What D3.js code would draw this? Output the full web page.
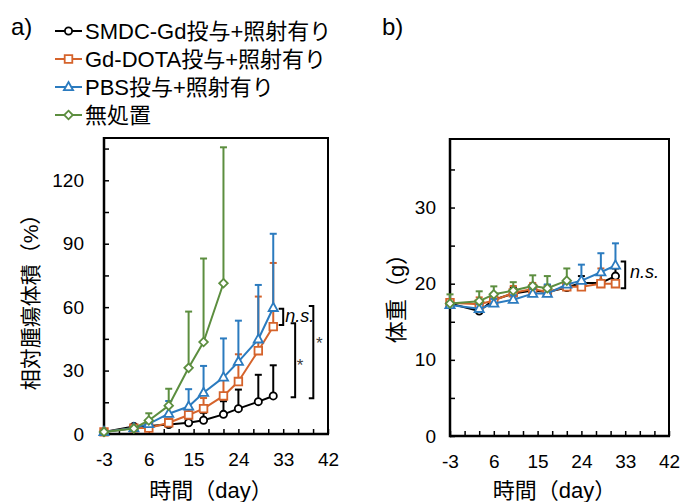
<!DOCTYPE html>
<html>
<head>
<meta charset="utf-8">
<script src="https://cdn.jsdelivr.net/npm/d3@7"></script>
<style>
  html, body { margin: 0; padding: 0; background: #fff; }
  svg { display: block; font-family: "Liberation Sans", Arial, "Noto Sans CJK JP", sans-serif; }
  .cjk { font-family: "Liberation Sans", Arial, "Noto Sans CJK JP", sans-serif; }
</style>
</head>
<body>
<svg id="chart" width="681" height="502"></svg>
<script>
// ---------- data ----------
const days = [-3, 3, 6, 10, 14, 17, 21, 24, 28, 31];
const daysUntreated = [-3, 3, 6, 10, 14, 17, 21];

const seriesNames = ["SMDC-Gd投与+照射有り", "Gd-DOTA投与+照射有り", "PBS投与+照射有り", "無処置"];
const seriesColors = ["#000000", "#D5632B", "#2B7BBF", "#5C8E3F"];
const seriesShapes = ["circle", "square", "triangle", "diamond"];

// panel a: relative tumor volume (%)
const tumorSMDC = [1, 3.6, 3.8, 4.5, 5.3, 6.5, 9.3, 12, 15.3, 18];
const tumorSMDCsd = [0, 0.6, 0.8, 1.2, 2.2, 3.5, 6.2, 9, 12.7, 14.5];
const tumorGdDOTA = [1, 2.8, 2.8, 5.3, 9, 12, 18, 24.8, 39.4, 50.8];
const tumorGdDOTAsd = [0, 0.5, 0.8, 2, 3, 5, 8, 12.9, 25.6, 30.1];
const tumorPBS = [1, 2.8, 4.8, 9.6, 13, 19.5, 26.8, 34.2, 44.8, 59.7];
const tumorPBSsd = [0, 0.5, 1.5, 6, 8.2, 12.7, 18.4, 19.4, 25.7, 35];
const tumorUntreated = [1, 2.6, 6.4, 13.4, 31.3, 43.5, 71.3];
const tumorUntreatedsd = [0, 0.5, 3.4, 8, 26.6, 39.5, 64.3];

// panel b: body weight (g)
const weightSMDC = [17.4, 16.4, 17.9, 18.7, 19.1, 18.9, 19.5, 20.1, 20.1, 21.0];
const weightSMDCsd = [0.4, 0.5, 0.6, 0.8, 0.8, 0.9, 0.9, 0.9, 1.2, 1.0];
const weightGdDOTA = [17.5, 17.3, 17.8, 18.8, 19.3, 18.9, 19.6, 19.6, 20.0, 20.0];
const weightGdDOTAsd = [0.4, 0.9, 0.9, 0.9, 0.8, 0.8, 0.9, 0.6, 2.0, 0.4];
const weightPBS = [17.2, 16.7, 17.4, 17.9, 18.7, 18.7, 19.9, 20.4, 21.5, 22.4];
const weightPBSsd = [0.3, 0.6, 0.6, 0.6, 0.6, 1.2, 0.6, 2.1, 2.5, 2.9];
const weightUntreated = [17.4, 17.7, 18.6, 19.1, 19.7, 19.4, 20.4];
const weightUntreatedsd = [1.2, 1.3, 1.05, 1.1, 1.4, 1.6, 1.6];

// axes
const xTickLabels = [-3, 6, 15, 24, 33, 42];
const xMinorTicks = d3.range(-3, 43, 3);
const tumorTickLabels = [0, 30, 60, 90, 120];
const tumorMinorTicks = d3.range(0, 136, 15);
const weightTickLabels = [0, 10, 20, 30];
const weightMinorTicks = d3.range(0, 36, 5);

// significance annotations (data space)
const tumorBrackets = [
  { x: 33, y0: 59.2, y1: 51.5, label: "n.s.", italic: true, lx: 33.4, ly: 53.2 },
  { x: 35.4, y0: 52.4, y1: 17.4, label: "*", italic: false, lx: 35.7, ly: 29.8 },
  { x: 39.05, y0: 60.5, y1: 16.9, label: "*", italic: false, lx: 39.6, ly: 40 }
];
const weightBrackets = [
  { x: 33, y0: 22.9, y1: 19.4, label: "n.s.", italic: true, lx: 34, ly: 20.8 }
];

// ---------- drawing ----------
const svg = d3.select("#chart");

function drawPanel(cfg) {
  const g = svg.append("g");
  const x = d3.scaleLinear().domain([-3, 42]).range([cfg.left, cfg.right]);
  const y = d3.scaleLinear().domain([0, cfg.ymax]).range([cfg.bottom, cfg.top]);

  // frame top/right
  g.append("path")
    .attr("d", `M${cfg.left},${cfg.top}H${cfg.right}V${cfg.bottom}`)
    .attr("fill", "none").attr("stroke", "#000").attr("stroke-width", 2);

  // x axis (ticks inside, up)
  const xAxisMinor = d3.axisTop(x).tickValues(xMinorTicks).tickSize(5).tickFormat("");
  const gx = g.append("g").attr("transform", `translate(0,${cfg.bottom})`).call(xAxisMinor);
  gx.select(".domain").remove();
  gx.selectAll(".tick line").attr("stroke", "#000").attr("stroke-width", 1.5);
  const xAxisLabels = d3.axisBottom(x).tickValues(xTickLabels).tickSize(0).tickPadding(19).tickFormat(d3.format("d"));
  const gxl = g.append("g").attr("transform", `translate(0,${cfg.bottom})`).call(xAxisLabels);
  gxl.select(".domain").remove();
  gxl.selectAll("text").attr("font-size", 19).attr("fill", "#000")
    .attr("font-family", "Liberation Sans, Arial, sans-serif").text(d => d < 0 ? "-" + Math.abs(d) : d);

  // y axis (ticks inside, right)
  const yAxisMinor = d3.axisRight(y).tickValues(cfg.minor).tickSize(5).tickFormat("");
  const gy = g.append("g").attr("transform", `translate(${cfg.left},0)`).call(yAxisMinor);
  gy.select(".domain").remove();
  gy.selectAll(".tick line").attr("stroke", "#000").attr("stroke-width", 1.5);
  const yAxisLabels = d3.axisLeft(y).tickValues(cfg.labels).tickSize(0).tickPadding(cfg.ypad).tickFormat(d3.format("d"));
  const gyl = g.append("g").attr("transform", `translate(${cfg.left},0)`).call(yAxisLabels);
  gyl.select(".domain").remove();
  gyl.selectAll("text").attr("font-size", 19).attr("fill", "#000")
    .attr("font-family", "Liberation Sans, Arial, sans-serif");

  // axis lines
  g.append("line").attr("x1", cfg.left).attr("x2", cfg.left).attr("y1", cfg.top - 1).attr("y2", cfg.bottom + 1.2)
    .attr("stroke", "#000").attr("stroke-width", 2.5);
  g.append("line").attr("x1", cfg.left).attr("x2", cfg.right + 1).attr("y1", cfg.bottom).attr("y2", cfg.bottom)
    .attr("stroke", "#000").attr("stroke-width", 2.5);

  // series
  const line = d3.line().x(d => x(d.x)).y(d => y(d.y));
  cfg.series.forEach((s, i) => {
    const color = seriesColors[i];
    const pts = s.xs.map((xv, k) => ({ x: xv, y: s.vals[k], e: s.sd[k] }));
    const sg = g.append("g");
    // error bars (upper)
    pts.forEach(p => {
      if (p.e <= 0) return;
      sg.append("line").attr("x1", x(p.x)).attr("x2", x(p.x)).attr("y1", y(p.y)).attr("y2", y(p.y + p.e))
        .attr("stroke", color).attr("stroke-width", 2);
      sg.append("line").attr("x1", x(p.x) - 3.5).attr("x2", x(p.x) + 3.5).attr("y1", y(p.y + p.e)).attr("y2", y(p.y + p.e))
        .attr("stroke", color).attr("stroke-width", 2);
    });
    sg.append("path").datum(pts).attr("d", line).attr("fill", "none")
      .attr("stroke", color).attr("stroke-width", 2).attr("stroke-linejoin", "round");
    pts.forEach(p => drawMarker(sg, seriesShapes[i], x(p.x), y(p.y), color));
  });

  // brackets
  cfg.brackets.forEach(b => {
    const bx = x(b.x);
    g.append("path")
      .attr("d", `M${bx - 4.5},${y(b.y0)}H${bx}V${y(b.y1)}H${bx - 4.5}`)
      .attr("fill", "none").attr("stroke", "#000").attr("stroke-width", 2);
    g.append("text").attr("x", x(b.lx)).attr("y", y(b.ly))
      .attr("font-size", b.italic ? 18 : 17)
      .attr("font-style", b.italic ? "italic" : "normal")
      .attr("fill", b.italic ? "#000" : "#404040")
      .attr("font-family", "Liberation Sans, Arial, sans-serif")
      .text(b.label);
  });

  // y title (rotated)
  g.append("text").attr("transform", `translate(${cfg.ytx},${cfg.yty}) rotate(-90)`)
    .attr("text-anchor", "middle").attr("dominant-baseline", "central")
    .attr("font-size", cfg.ytsize).attr("fill", "#000").attr("class", "cjk")
    .text(cfg.ytitle);
  // x title
  g.append("text").attr("x", (cfg.left + cfg.right) / 2 - 5).attr("y", 498)
    .attr("text-anchor", "middle").attr("font-size", 22).attr("fill", "#000").attr("class", "cjk")
    .text("時間（day）");
  // panel label
  g.append("text").attr("x", cfg.plx).attr("y", 35).attr("font-size", 24).attr("fill", "#000").text(cfg.plabel);
}

function drawMarker(g, shape, cx, cy, color) {
  let path;
  if (shape === "circle") {
    g.append("circle").attr("cx", cx).attr("cy", cy).attr("r", 3.6)
      .attr("fill", "#fff").attr("stroke", color).attr("stroke-width", 1.8);
    return;
  } else if (shape === "square") {
    path = `M${cx - 3.8},${cy - 3.8}h7.6v7.6h-7.6Z`;
  } else if (shape === "triangle") {
    path = `M${cx},${cy - 5}L${cx + 4.6},${cy + 3.2}L${cx - 4.6},${cy + 3.2}Z`;
  } else {
    path = `M${cx},${cy - 4.3}L${cx + 4.3},${cy}L${cx},${cy + 4.3}L${cx - 4.3},${cy}Z`;
  }
  g.append("path").attr("d", path).attr("fill", "#fff").attr("stroke", color).attr("stroke-width", 1.8);
}

drawPanel({
  left: 104, right: 328, top: 138, bottom: 434, ymax: 140,
  labels: tumorTickLabels, minor: tumorMinorTicks, ypad: 20,
  ytitle: "相対腫瘍体積（%）", ytx: 30, yty: 297, ytsize: 21,
  plabel: "a)", plx: 11,
  series: [
    { xs: days, vals: tumorSMDC, sd: tumorSMDCsd },
    { xs: days, vals: tumorGdDOTA, sd: tumorGdDOTAsd },
    { xs: days, vals: tumorPBS, sd: tumorPBSsd },
    { xs: daysUntreated, vals: tumorUntreated, sd: tumorUntreatedsd }
  ],
  brackets: tumorBrackets
});

drawPanel({
  left: 450, right: 669, top: 139, bottom: 436, ymax: 39,
  labels: weightTickLabels, minor: weightMinorTicks, ypad: 14,
  ytitle: "体重（g）", ytx: 396, yty: 293, ytsize: 22,
  plabel: "b)", plx: 382,
  series: [
    { xs: days, vals: weightSMDC, sd: weightSMDCsd },
    { xs: days, vals: weightGdDOTA, sd: weightGdDOTAsd },
    { xs: days, vals: weightPBS, sd: weightPBSsd },
    { xs: daysUntreated, vals: weightUntreated, sd: weightUntreatedsd }
  ],
  brackets: weightBrackets
});

// legend
const legend = svg.append("g");
seriesNames.forEach((name, i) => {
  const cy = 31 + i * 28;
  legend.append("line").attr("x1", 55).attr("x2", 82).attr("y1", cy).attr("y2", cy)
    .attr("stroke", seriesColors[i]).attr("stroke-width", 2);
  drawMarker(legend, seriesShapes[i], 68.5, cy, seriesColors[i]);
  legend.append("text").attr("x", 85).attr("y", cy + 8).attr("font-size", 22).attr("fill", "#000")
    .attr("class", "cjk").text(name);
});
</script>
</body>
</html>
